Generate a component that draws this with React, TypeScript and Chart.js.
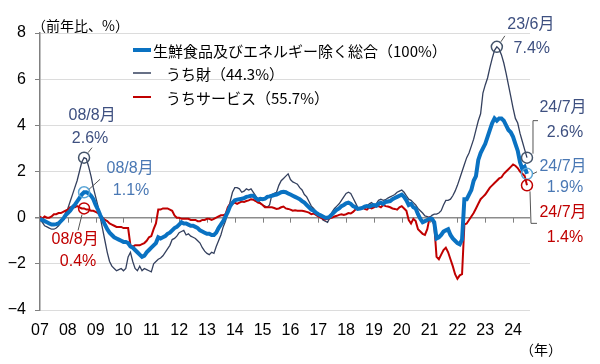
import React, { useEffect, useRef } from 'react';
import { Chart, registerables } from 'chart.js';

Chart.register(...registerables);

// ---- data (monthly, 2007/1 .. 2024/7) ----
const yearLabels = ['07','08','09','10','11','12','13','14','15','16','17','18','19','20','21','22','23','24'];
const yTicks = [-4, -2, 0, 2, 4, 6, 8];

// 生鮮食品及びエネルギー除く総合
const coreCore = [
  -0.05,-0.1,-0.15,-0.2,-0.25,-0.3,-0.3,-0.28,-0.25,-0.15,-0.05,0.1,
  0.2,0.3,0.45,0.55,0.7,0.85,1.0,1.1,1.1,1.05,0.95,0.8,
  0.55,0.35,0.1,-0.1,-0.3,-0.5,-0.65,-0.75,-0.85,-0.9,-0.95,-1.0,
  -1.05,-1.05,-1.1,-1.25,-1.3,-1.4,-1.5,-1.6,-1.7,-1.65,-1.5,-1.4,
  -1.3,-1.2,-1.1,-0.85,-0.9,-0.85,-0.8,-0.7,-0.65,-0.55,-0.45,-0.4,
  -0.3,-0.2,-0.25,-0.25,-0.3,-0.35,-0.35,-0.4,-0.45,-0.55,-0.6,-0.65,
  -0.7,-0.7,-0.75,-0.75,-0.65,-0.45,-0.3,-0.15,0.05,0.25,0.5,0.65,
  0.75,0.78,0.8,0.82,0.85,0.9,0.92,0.95,0.95,0.85,0.78,0.82,
  0.8,0.82,0.9,0.92,0.95,0.98,1.0,1.05,1.1,1.12,1.1,1.05,
  1.0,0.95,0.9,0.85,0.8,0.72,0.65,0.55,0.45,0.35,0.3,0.22,
  0.15,0.1,0.05,0.0,0.0,0.05,0.15,0.25,0.35,0.4,0.5,0.55,
  0.62,0.65,0.6,0.5,0.45,0.38,0.4,0.42,0.48,0.5,0.48,0.52,
  0.55,0.52,0.6,0.65,0.6,0.68,0.7,0.72,0.8,0.85,0.9,0.95,
  1.0,0.9,0.75,0.55,0.6,0.45,0.4,0.15,-0.05,-0.2,-0.15,-0.1,
  -0.05,-0.05,-0.2,-0.9,-0.85,-0.75,-0.6,-0.55,-0.5,-0.75,-0.9,-1.0,
  -1.1,-1.15,-0.95,0.8,0.8,1.0,1.2,1.6,1.8,2.5,2.8,3.0,
  3.2,3.5,3.8,4.1,4.3,4.2,4.3,4.3,4.2,4.0,3.8,3.7,
  3.5,3.2,2.9,2.4,2.1,2.2,1.9,
];

// うち財
const goods = [
  -0.1,-0.2,-0.35,-0.4,-0.45,-0.5,-0.5,-0.45,-0.35,-0.2,-0.05,0.2,
  0.4,0.7,1.0,1.3,1.6,2.0,2.4,2.6,2.55,2.2,1.8,1.3,
  0.9,0.5,0.0,-0.5,-1.0,-1.5,-1.9,-2.1,-2.2,-2.3,-2.25,-2.2,
  -2.3,-2.2,-1.7,-1.5,-1.9,-2.2,-2.3,-2.1,-2.3,-2.2,-2.25,-2.3,
  -2.35,-2.0,-1.9,-1.8,-1.75,-1.65,-1.5,-1.35,-1.2,-0.95,-0.9,-0.8,
  -0.65,-0.6,-0.55,-0.75,-0.7,-0.8,-0.85,-0.9,-1.0,-1.1,-1.3,-1.45,
  -1.55,-1.6,-1.5,-1.55,-1.25,-1.0,-0.75,-0.4,-0.15,0.25,0.7,1.1,
  1.3,1.3,1.25,1.1,1.15,1.25,1.2,1.25,1.1,0.95,0.75,0.65,
  0.55,0.5,0.45,0.55,1.0,1.05,1.1,1.4,1.6,1.7,1.8,1.9,
  1.65,1.55,1.5,1.45,1.3,1.2,1.0,0.9,0.7,0.5,0.4,0.25,
  0.15,0.1,-0.1,-0.15,-0.2,0.0,0.25,0.4,0.5,0.6,0.75,0.9,
  1.05,1.1,1.05,0.85,0.65,0.45,0.4,0.45,0.4,0.5,0.6,0.65,
  0.55,0.6,0.75,0.8,0.75,0.78,0.85,0.9,0.95,1.0,1.1,1.15,
  1.2,1.1,0.95,0.8,0.75,0.65,0.55,0.4,0.3,0.2,0.08,0.05,
  0.0,0.1,0.15,0.15,0.2,0.3,0.55,0.75,0.75,0.8,0.95,1.15,
  1.4,1.7,2.0,2.3,2.6,2.8,3.1,3.4,3.8,4.2,4.5,5.4,
  5.75,6.05,6.5,6.9,7.25,7.4,7.3,7.05,6.7,6.25,5.75,5.25,
  4.75,4.3,4.1,3.65,3.3,2.95,2.6,
];

// うちサービス
const services = [
  0.05,-0.05,0.05,0.0,0.0,0.05,0.15,0.15,0.2,0.2,0.25,0.3,
  0.35,0.45,0.45,0.45,0.5,0.45,0.4,0.4,0.35,0.35,0.3,0.3,
  0.25,0.2,0.1,0.0,-0.1,-0.15,-0.25,-0.3,-0.35,-0.4,-0.4,-0.4,
  -0.45,-0.45,-0.45,-1.2,-1.25,-1.2,-1.2,-1.2,-1.15,-1.1,-1.0,-0.85,
  -0.8,-0.5,-0.25,0.35,0.35,0.4,0.4,0.4,0.35,0.3,0.1,0.0,
  0.0,-0.05,-0.05,-0.05,-0.05,-0.1,-0.1,-0.1,-0.15,-0.15,-0.1,-0.1,
  -0.05,-0.05,-0.1,-0.05,0.0,0.05,0.1,0.1,0.15,0.45,0.6,0.6,
  0.65,0.6,0.65,0.7,0.68,0.72,0.75,0.8,0.78,0.72,0.65,0.62,
  0.55,0.45,0.45,0.45,0.45,0.42,0.38,0.4,0.45,0.48,0.4,0.38,
  0.35,0.3,0.32,0.3,0.3,0.3,0.28,0.25,0.22,0.15,0.18,0.12,
  0.05,0.0,-0.05,-0.08,-0.05,-0.03,0.0,0.05,0.08,0.12,0.15,0.12,
  0.15,0.2,0.18,0.25,0.35,0.4,0.38,0.45,0.38,0.35,0.45,0.4,
  0.45,0.5,0.5,0.45,0.55,0.5,0.48,0.45,0.4,0.38,0.35,0.45,
  0.5,0.4,0.3,-0.1,-0.25,-0.05,-0.15,-0.5,-0.6,-0.7,-0.75,-0.5,
  0.0,-0.1,-0.3,-1.7,-1.8,-1.6,-1.4,-1.3,-1.5,-1.8,-2.1,-2.45,
  -2.65,-2.5,-2.45,-0.3,-0.25,-0.1,0.05,0.2,0.4,0.6,0.8,0.9,
  1.0,1.15,1.3,1.4,1.5,1.6,1.7,1.75,1.9,2.0,2.1,2.2,
  2.3,2.25,2.15,2.0,1.9,1.8,1.4,
];

const seriesNames = ['生鮮食品及びエネルギー除く総合（100%）', 'うち財（44.3%）', 'うちサービス（55.7%）'];
const unitLabel = '（前年比、%）';
const yearUnitLabel = '（年）';

const BLUE = '#0a72c2';
const NAVY = '#34405e';
const RED = '#c00000';
const NAVY_TXT = '#3e5080';
const BLUE_TXT = '#4a78b4';
const NUM_FONT = "'Liberation Sans', Arial, 'Noto Sans CJK JP', sans-serif";
const JP_FONT = "'Noto Sans CJK JP', 'Liberation Sans', sans-serif";

// annotation: which series, month index, label, layout offsets relative to the marked point
const notes = [
  { data: goods, idx: 19, label: '08/8月', color: NAVY_TXT, ring: '#44546a', t1: [8, -42], t2: [6, -19], lead: [[4, -5], [8, -10]] },
  { data: coreCore, idx: 19, label: '08/8月', color: BLUE_TXT, ring: '#5aa5d6', t1: [46, -24], t2: [47, -2], lead: [[5, -3], [16, -13]] },
  { data: services, idx: 19, label: '08/8月', color: RED, ring: RED, t1: [-9, 31], t2: [-6, 53], lead: [[-2, 6], [-6, 22]] },
  { data: goods, idx: 197, label: '23/6月', color: NAVY_TXT, ring: '#44546a', t1: [34, -22], t2: [35, 2], lead: [[4, -5], [8, -11]] },
  { data: goods, idx: 210, label: '24/7月', color: NAVY_TXT, ring: '#44546a', t1: [36, -50], t2: [38, -25], lead: [[6, -4], [6, -37], [11, -37]] },
  { data: coreCore, idx: 210, label: '24/7月', color: BLUE_TXT, ring: '#5aa5d6', t1: [36, -7], t2: [38, 14], lead: [[6, 0], [10, -2]] },
  { data: services, idx: 210, label: '24/7月', color: RED, ring: RED, t1: [36, 27], t2: [38, 52], lead: [[3, 6], [4, 38], [10, 38]] },
];

const overlay = {
  id: 'overlay',
  beforeDatasetsDraw(chart: any) {
    const { ctx, scales } = chart;
    const x = scales.x, y = scales.y;
    const y0 = y.getPixelForValue(0);
    ctx.save();
    ctx.strokeStyle = '#808080';
    ctx.lineWidth = 1;
    for (let i = 1; i < yearLabels.length; i++) {
      const px = Math.round(x.getPixelForValue(i * 12)) + 0.5;
      ctx.beginPath();
      ctx.moveTo(px, y0);
      ctx.lineTo(px, y0 + 5);
      ctx.stroke();
    }
    ctx.restore();
  },
  afterDatasetsDraw(chart: any) {
    const { ctx, scales } = chart;
    const x = scales.x, y = scales.y;
    ctx.save();
    // legend
    const leg = [
      { c: BLUE, w: 4, ly: 50, tx: 153 },
      { c: NAVY, w: 1.5, ly: 73, tx: 166 },
      { c: RED, w: 2, ly: 97, tx: 166 },
    ];
    ctx.font = `15px ${JP_FONT}`;
    ctx.textBaseline = 'middle';
    ctx.textAlign = 'left';
    leg.forEach((l, i) => {
      ctx.strokeStyle = l.c;
      ctx.lineWidth = l.w;
      ctx.beginPath();
      ctx.moveTo(133, l.ly);
      ctx.lineTo(151, l.ly);
      ctx.stroke();
      ctx.fillStyle = '#000';
      ctx.fillText(seriesNames[i], l.tx, l.ly + 1);
    });
    // unit labels
    ctx.font = `14px ${JP_FONT}`;
    ctx.fillText(unitLabel, 32, 26);
    ctx.fillText(yearUnitLabel, 520, 350);
    // annotations
    notes.forEach((n) => {
      const v = n.data[n.idx];
      const cx = x.getPixelForValue(n.idx);
      const cy = y.getPixelForValue(v);
      ctx.strokeStyle = n.ring;
      ctx.lineWidth = 1.5;
      ctx.beginPath();
      ctx.arc(cx, cy, 5.5, 0, Math.PI * 2);
      ctx.stroke();
      ctx.strokeStyle = '#555';
      ctx.lineWidth = 1;
      ctx.beginPath();
      n.lead.forEach((p, k) => {
        if (k === 0) ctx.moveTo(cx + p[0], cy + p[1]);
        else ctx.lineTo(cx + p[0], cy + p[1]);
      });
      ctx.stroke();
      ctx.fillStyle = n.color;
      ctx.textAlign = 'center';
      ctx.font = `16px ${NUM_FONT}`;
      ctx.fillText(n.label, cx + n.t1[0], cy + n.t1[1]);
      ctx.fillText(`${v.toFixed(1)}%`, cx + n.t2[0], cy + n.t2[1]);
    });
    ctx.restore();
  },
};

export default function App() {
  const ref = useRef<HTMLCanvasElement | null>(null);
  useEffect(() => {
    if (!ref.current) return;
    const pts = (arr: number[]) => arr.map((v, i) => ({ x: i, y: v }));
    const chart = new Chart(ref.current, {
      type: 'line',
      data: {
        datasets: [
          { label: seriesNames[0], data: pts(coreCore), borderColor: BLUE, borderWidth: 4, pointRadius: 0, order: 0, tension: 0 },
          { label: seriesNames[2], data: pts(services), borderColor: RED, borderWidth: 2, pointRadius: 0, order: 1, tension: 0 },
          { label: seriesNames[1], data: pts(goods), borderColor: NAVY, borderWidth: 1.3, pointRadius: 0, order: 2, tension: 0 },
        ],
      },
      options: {
        animation: false,
        responsive: false,
        devicePixelRatio: 1,
        layout: { padding: { top: 33, right: 70, bottom: 0, left: 0 } },
        plugins: { legend: { display: false }, tooltip: { enabled: false } },
        scales: {
          x: {
            type: 'linear',
            min: 0,
            max: 211.3,
            afterBuildTicks: (s: any) => { s.ticks = yearLabels.map((_, i) => ({ value: i * 12 })); },
            ticks: {
              autoSkip: false,
              maxRotation: 0,
              padding: 11,
              color: '#000',
              font: { family: NUM_FONT, size: 16 },
              callback: (_v: any, i: number) => yearLabels[i],
            },
            grid: { display: false, drawTicks: false },
            border: { display: false },
            afterFit: (s: any) => { s.height = 54; },
          },
          y: {
            min: -4,
            max: 8,
            afterBuildTicks: (s: any) => { s.ticks = yTicks.map((v) => ({ value: v })); },
            ticks: {
              padding: 9,
              color: '#000',
              font: { family: NUM_FONT, size: 16 },
              callback: (v: any) => (v < 0 ? '−' + Math.abs(v) : String(v)),
            },
            grid: {
              color: (c: any) => (c.tick && c.tick.value === 0 ? '#8c8c8c' : '#dcdcdc'),
              lineWidth: (c: any) => (c.tick && c.tick.value === 0 ? 1.5 : 1),
              tickColor: '#808080',
              tickLength: 5,
            },
            border: { color: '#808080', width: 1.5 },
            afterFit: (s: any) => { s.width = 40; },
          },
        },
      },
      plugins: [overlay],
    } as any);
    return () => chart.destroy();
  }, []);
  return (
    <div style={{ position: 'fixed', left: 0, top: 0, width: 600, height: 364, background: '#fff' }}>
      <canvas ref={ref} width={600} height={364} style={{ width: 600, height: 364, display: 'block' }} />
    </div>
  );
}
